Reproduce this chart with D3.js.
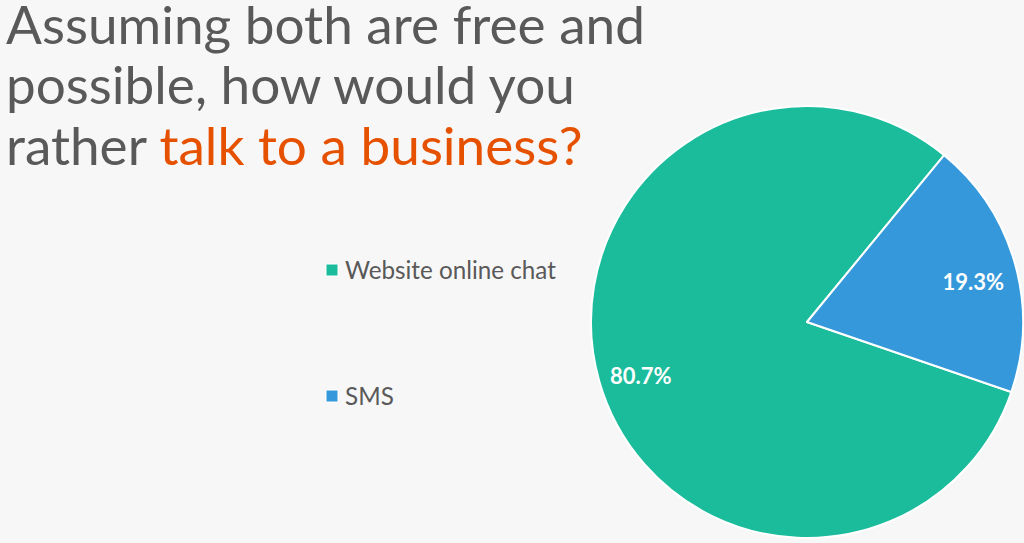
<!DOCTYPE html>
<html>
<head>
<meta charset="utf-8">
<script src="https://cdn.jsdelivr.net/npm/d3@7"></script>
<style>
  html, body { margin: 0; padding: 0; background: #f7f7f7; }
  svg { display: block; }
</style>
</head>
<body>
<svg id="chart" width="1024" height="543"></svg>
<script>
// data
var categories = ["Website online chat", "SMS"];
var values = [80.7, 19.3];
var colors = ["#1abc9c", "#3498db"];
var titleLines = [
  [["Assuming both are free and", "#595959"]],
  [["possible, how would you", "#595959"]],
  [["rather ", "#595959"], ["talk to a business?", "#e65100"]]
];

var svg = d3.select("#chart"),
    width = +svg.attr("width"),
    height = +svg.attr("height");

svg.append("rect").attr("width", width).attr("height", height).attr("fill", "#f7f7f7");

// title, sized so first line spans like the picture
var title = svg.append("g").attr("font-family", "Lato, sans-serif");
var titleY = [44, 104, 165];
titleLines.forEach(function(parts, i) {
  var t = title.append("text")
    .attr("x", 6)
    .attr("y", titleY[i])
    .attr("font-size", 50);
  parts.forEach(function(p) {
    t.append("tspan").attr("fill", p[1]).text(p[0]);
  });
});
var firstW = title.select("text").node().getComputedTextLength();
var fs = 50 * 639 / firstW;
title.selectAll("text").attr("font-size", fs);

// legend
var legend = svg.append("g").attr("font-family", "Lato, sans-serif");
var legendY = d3.scalePoint().domain(categories).range([270, 396]);
var item = legend.selectAll("g")
  .data(categories)
  .enter().append("g")
  .attr("transform", function(d) { return "translate(326," + legendY(d) + ")"; });
item.append("rect")
  .attr("x", 0).attr("y", -6)
  .attr("width", 12).attr("height", 12)
  .attr("fill", function(d, i) { return colors[i]; })
  .attr("stroke", "#fff").attr("stroke-width", 1);
item.append("text")
  .attr("x", 19)
  .attr("y", 0)
  .attr("dy", "0.36em")
  .attr("fill", "#595959")
  .attr("font-size", 22)
  .text(function(d) { return d; });
var lw = item.select("text").node().getComputedTextLength();
item.selectAll("text").attr("font-size", 22 * 211 / lw);

// pie
var cx = 807, cy = 322, radius = 216;
var startA = 108.9 * Math.PI / 180;
var pie = d3.pie().sort(null)
  .startAngle(startA)
  .endAngle(startA + 2 * Math.PI);
var arc = d3.arc().innerRadius(0).outerRadius(radius);
var labelArc = d3.arc().innerRadius(radius * 0.8).outerRadius(radius * 0.8);

var g = svg.append("g").attr("transform", "translate(" + cx + "," + cy + ")");
var arcs = g.selectAll(".arc")
  .data(pie(values))
  .enter().append("g")
  .attr("class", "arc");

arcs.append("path")
  .attr("d", arc)
  .attr("fill", function(d, i) { return colors[i]; })
  .attr("stroke", "#fff")
  .attr("stroke-width", 2)
  .attr("stroke-linejoin", "round");

arcs.append("text")
  .attr("transform", function(d) { return "translate(" + labelArc.centroid(d) + ")"; })
  .attr("text-anchor", "middle")
  .attr("dy", "0.68em")
  .attr("fill", "#fff")
  .attr("font-family", "Lato, sans-serif")
  .attr("font-weight", "bold")
  .attr("font-size", 22)
  .text(function(d) { return d.data.toFixed(1) + "%"; });
</script>
</body>
</html>
